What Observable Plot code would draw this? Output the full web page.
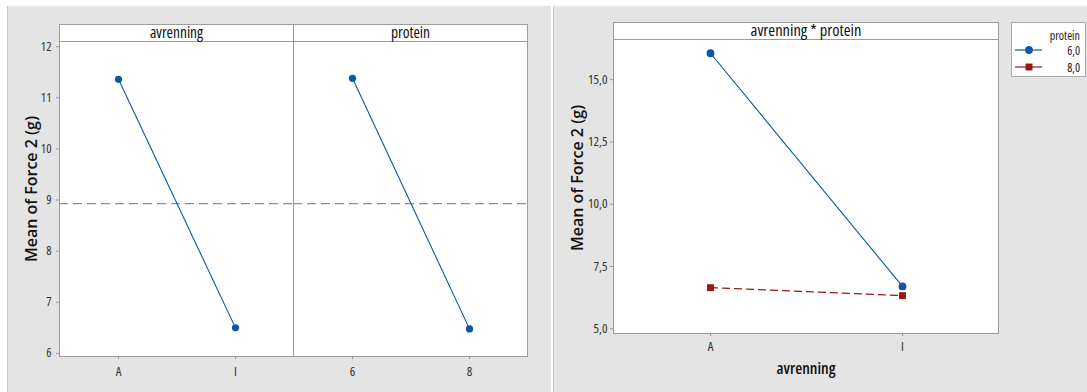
<!DOCTYPE html>
<html>
<head>
<meta charset="utf-8">
<script src="https://cdn.jsdelivr.net/npm/d3@7"></script>
<script src="https://cdn.jsdelivr.net/npm/@observablehq/plot@0.6"></script>
<style>
  html, body { margin: 0; padding: 0; background: #ffffff; }
  #page { position: relative; width: 1087px; height: 392px; overflow: hidden; font-family: "Open Sans", "Noto Sans", sans-serif; }
  .panel-bg { position: absolute; background: #e4e4e4; }
  .chart { position: absolute; top: 0; }
  .chart svg text { font-stretch: 87.5%; }
  .chart svg .ytitle text { font-stretch: 100%; }
  #legend { position: absolute; left: 1011px; top: 22px; width: 73px; height: 53px; background: #fff; border: 1px solid #ababab; }
  #legend text { font-stretch: 87.5%; }
</style>
</head>
<body>
<div id="page">
  <div class="panel-bg" style="left:7px; top:6px; width:543px; height:386px; border-left:1px solid #c9c9c9;"></div>
  <div class="panel-bg" style="left:553px; top:6px; width:534px; height:386px; border-left:1px solid #c9c9c9;"></div>
  <div id="left" class="chart" style="left:0px;"></div>
  <div id="right" class="chart" style="left:553px;"></div>
  <div id="legend"></div>
</div>
<script>
// Main effects: mean Force 2 (g) for each factor level
const avrenningLevels = ["A", "I"];
const avrenningMeans = [11.36, 6.50];
const proteinLevels = ["6", "8"];
const proteinMeans = [11.38, 6.48];

// Interaction: mean Force 2 (g) by avrenning level, one series per protein level
const proteinSeries = ["6,0", "8,0"];
const protein6Means = [16.06, 6.70];
const protein8Means = [6.65, 6.33];

// Axis ticks
const mainTicks = [6, 7, 8, 9, 10, 11, 12];
const interTicks = [5, 7.5, 10, 12.5, 15];

const BLUE = "#0b56a8";
const RED = "#9b1616";
const FRAME = "#9c9c9c";
const FONT = "'Open Sans', 'Noto Sans', sans-serif";
const yTitle = "Mean of Force 2 (g)";

// ---------- main effects plot (two facets) ----------
const factors = ["avrenning", "protein"];
const mainRows = [
  ...avrenningLevels.map((level, i) => ({factor: "avrenning", idx: i, level, mean: avrenningMeans[i]})),
  ...proteinLevels.map((level, i) => ({factor: "protein", idx: i, level, mean: proteinMeans[i]}))
];
const grandMean = d3.mean(avrenningMeans);

// the strip header occupies the top STRIP pixels of each facet frame
const STRIP = 17;
const L = {width: 550, height: 392, top: 24, bottom: 36, left: 58, right: 23};
const leftChart = Plot.plot({
  width: L.width, height: L.height,
  marginLeft: L.left, marginRight: L.right, marginTop: L.top, marginBottom: L.bottom,
  style: {background: "transparent", fontFamily: FONT, color: "#222"},
  fx: {domain: factors, padding: 0, axis: null},
  x: {type: "point", domain: [0, 1], padding: 0.5, axis: null},
  y: {domain: [5.94, 12.1], insetTop: STRIP, axis: null},
  marks: [
    Plot.frame({fill: "white", stroke: FRAME, shapeRendering: "crispEdges"}),
    Plot.frame({stroke: FRAME, insetTop: STRIP, shapeRendering: "crispEdges"}),
    Plot.text(factors, {fx: d => d, text: d => d, frameAnchor: "top", lineAnchor: "middle", dy: STRIP / 2, fontSize: 15.5, fill: "#111"}),
    Plot.axisY({ticks: mainTicks, tickFormat: d => String(d), tickSize: 3, tickPadding: 5, fontSize: 12.5, label: null, stroke: "#999", fill: "#333"}),
    Plot.axisX({tickFormat: () => "", tickSize: 3, stroke: "#999", label: null}),
    Plot.text(mainRows, {fx: "factor", x: "idx", text: "level", frameAnchor: "bottom", lineAnchor: "middle", dy: 15, fontSize: 13, fill: "#333"}),
    Plot.ruleY([grandMean], {stroke: "#8f8f8f", strokeWidth: 1.2, strokeDasharray: "9,5"}),
    Plot.line(mainRows, {fx: "factor", x: "idx", y: "mean", stroke: BLUE, strokeWidth: 1.1}),
    Plot.dot(mainRows, {fx: "factor", x: "idx", y: "mean", fill: BLUE, r: 3.6}),
    Plot.text([{factor: "avrenning", t: yTitle}], {fx: "factor", text: "t", frameAnchor: "left", textAnchor: "middle", lineAnchor: "middle", rotate: -90, dx: -28, dy: -1.5, fontSize: 16, fontWeight: 600, fill: "#111", className: "ytitle"})
  ]
});
document.getElementById("left").append(leftChart);

// ---------- interaction plot ----------
const interRows = avrenningLevels.flatMap((level, i) => [
  {avrenning: level, protein: proteinSeries[0], mean: protein6Means[i]},
  {avrenning: level, protein: proteinSeries[1], mean: protein8Means[i]}
]);

const RSTRIP = 17.5;
const R = {width: 534, height: 392, top: 21.8, bottom: 59, left: 60, right: 89};
const rightChart = Plot.plot({
  width: R.width, height: R.height,
  marginLeft: R.left, marginRight: R.right, marginTop: R.top, marginBottom: R.bottom,
  style: {background: "transparent", fontFamily: FONT, color: "#222"},
  x: {type: "point", domain: avrenningLevels, padding: 0.5, axis: null},
  y: {domain: [4.81, 16.6], insetTop: RSTRIP, axis: null},
  color: {domain: proteinSeries, range: [BLUE, RED]},
  symbol: {domain: proteinSeries, range: ["circle", "square"]},
  marks: [
    Plot.frame({fill: "white", stroke: FRAME, shapeRendering: "crispEdges"}),
    Plot.frame({stroke: FRAME, insetTop: RSTRIP, shapeRendering: "crispEdges"}),
    Plot.text(["avrenning * protein"], {frameAnchor: "top", lineAnchor: "middle", dy: RSTRIP / 2, fontSize: 16.5, fill: "#111"}),
    Plot.axisY({ticks: interTicks, tickFormat: d => d.toFixed(1).replace(".", ","), tickSize: 3, tickPadding: 3, fontSize: 13, label: null, stroke: "#999", fill: "#333"}),
    Plot.axisX({tickSize: 3, tickPadding: 5, fontSize: 13, label: null, stroke: "#999", fill: "#333"}),
    Plot.text(["avrenning"], {frameAnchor: "bottom", lineAnchor: "middle", dy: 35, fontSize: 16, fontWeight: 600, fill: "#111"}),
    Plot.line(interRows.filter(d => d.protein === proteinSeries[0]), {x: "avrenning", y: "mean", stroke: "protein", strokeWidth: 1.1}),
    Plot.line(interRows.filter(d => d.protein === proteinSeries[1]), {x: "avrenning", y: "mean", stroke: "protein", strokeWidth: 1.3, strokeDasharray: "7,5"}),
    Plot.dot(interRows, {x: "avrenning", y: "mean", fill: "protein", symbol: "protein", r: 3.9}),
    Plot.text([yTitle], {frameAnchor: "left", textAnchor: "middle", lineAnchor: "middle", rotate: -90, dx: -36, dy: 0, fontSize: 16, fontWeight: 600, fill: "#111", className: "ytitle"})
  ]
});
document.getElementById("right").append(rightChart);

// ---------- legend ----------
const colorOf = d3.scaleOrdinal(proteinSeries, [BLUE, RED]);
const symbolOf = d3.scaleOrdinal(proteinSeries, [d3.symbolCircle, d3.symbolSquare]);
const lg = d3.select("#legend").append("svg")
  .attr("width", 73).attr("height", 53)
  .style("font-family", FONT).style("font-size", "12px");
lg.append("text").attr("x", 68).attr("y", 12).attr("text-anchor", "end")
  .attr("dominant-baseline", "central").attr("fill", "#222").text("protein");
const rows = lg.selectAll("g.row").data(proteinSeries).join("g")
  .attr("transform", (d, i) => `translate(0,${27 + i * 17})`);
rows.append("line").attr("x1", 3).attr("x2", 30).attr("stroke", d => colorOf(d)).attr("stroke-width", 1.2);
rows.append("path").attr("transform", "translate(17,0)")
  .attr("d", d => d3.symbol(symbolOf(d), 48)()).attr("fill", d => colorOf(d));
rows.append("text").attr("x", 68).attr("text-anchor", "end").attr("dominant-baseline", "central")
  .attr("fill", "#222").text(d => d);
</script>
</body>
</html>
